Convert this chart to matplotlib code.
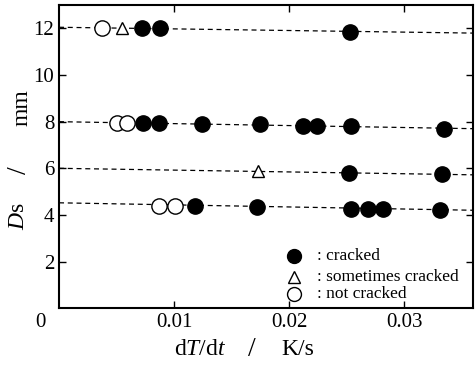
import matplotlib.pyplot as plt

plt.rcParams['font.family'] = 'Liberation Serif'
plt.rcParams['mathtext.fontset'] = 'custom'
plt.rcParams['mathtext.rm'] = 'Liberation Serif'
plt.rcParams['mathtext.it'] = 'Liberation Serif:italic'

# row Ds = 12 mm
r12_open_x = [0.0037]
r12_open_y = [12.0]
r12_tri_x = [0.0055]
r12_tri_y = [12.0]
r12_fill_x = [0.0072, 0.0088, 0.0253]
r12_fill_y = [12.0, 12.0, 11.85]

# row Ds = 8 mm
r8_open_x = [0.0050, 0.0059]
r8_open_y = [7.95, 7.95]
r8_fill_x = [0.0073, 0.0087, 0.0124, 0.0175, 0.0212, 0.0224, 0.0254, 0.0335]
r8_fill_y = [7.95, 7.93, 7.9, 7.88, 7.82, 7.82, 7.8, 7.68]

# row Ds = 6 mm
r6_tri_x = [0.0173]
r6_tri_y = [5.9]
r6_fill_x = [0.0252, 0.0333]
r6_fill_y = [5.8, 5.75]

# row Ds = 4.5 mm
r4_open_x = [0.0087, 0.0101]
r4_open_y = [4.4, 4.4]
r4_fill_x = [0.0118, 0.0172, 0.0254, 0.0269, 0.0282, 0.0331]
r4_fill_y = [4.4, 4.35, 4.25, 4.25, 4.25, 4.22]

# dashed guide lines (left / right end values)
line_x = [0.0, 0.036]
line_12 = [12.05, 11.8]
line_8 = [8.0, 7.7]
line_6 = [6.0, 5.72]
line_4 = [4.52, 4.2]

fig = plt.figure(figsize=(4.76, 3.66), dpi=100)
ax = fig.add_axes([0.124, 0.158, 0.87, 0.828])

for ly in [line_12, line_8, line_6, line_4]:
    ax.plot(line_x, ly, color='black', lw=0.9, ls=(0, (4, 3)), zorder=1)

ms = 11
ax.plot(r12_fill_x + r8_fill_x + r6_fill_x + r4_fill_x,
        r12_fill_y + r8_fill_y + r6_fill_y + r4_fill_y,
        'o', color='black', ms=ms, zorder=3)
ax.plot(r12_open_x + r8_open_x + r4_open_x,
        r12_open_y + r8_open_y + r4_open_y,
        'o', mfc='white', mec='black', mew=1.0, ms=ms, zorder=3)
ax.plot(r12_tri_x + r6_tri_x, r12_tri_y + r6_tri_y,
        '^', mfc='white', mec='black', mew=1.0, ms=9, zorder=3)

ax.set_xlim(0, 0.036)
ax.set_ylim(0, 13)
ax.set_xticks([0.01, 0.02, 0.03])
ax.set_xticklabels(['0.01', '0.02', '0.03'])
ax.set_yticks([2, 4, 6, 8, 10, 12])
ax.tick_params(direction='in', top=True, right=True, labelsize=15,
               length=5, width=1)
for s in ax.spines.values():
    s.set_linewidth(1.5)

fig.text(0.085, 0.12, '0', fontsize=15, ha='center', va='center')

# legend drawn by hand
lx = 0.0204
ax.plot([lx], [2.25], 'o', color='black', ms=10)
ax.plot([lx], [1.35], '^', mfc='white', mec='black', ms=8.5)
ax.plot([lx], [0.6], 'o', mfc='white', mec='black', ms=10)
tx = 0.0224
ax.text(tx, 2.25, ': cracked', fontsize=12.5, va='center')
ax.text(tx, 1.35, ': sometimes cracked', fontsize=12.5, va='center')
ax.text(tx, 0.6, ': not cracked', fontsize=12.5, va='center')

# axis labels
fig.text(0.42, 0.044, r'd$T$/d$t$', fontsize=17, ha='center', va='center')
fig.text(0.53, 0.044, '/', fontsize=20, ha='center', va='center')
fig.text(0.625, 0.044, 'K/s', fontsize=17, ha='center', va='center')
fig.text(0.038, 0.41, r'$D$s', fontsize=17, ha='center', va='center', rotation=90)
fig.text(0.04, 0.535, '/', fontsize=20, ha='center', va='center', rotation=90)
fig.text(0.046, 0.705, 'mm', fontsize=17, ha='center', va='center', rotation=90)

fig.savefig('out.png', dpi=100)
